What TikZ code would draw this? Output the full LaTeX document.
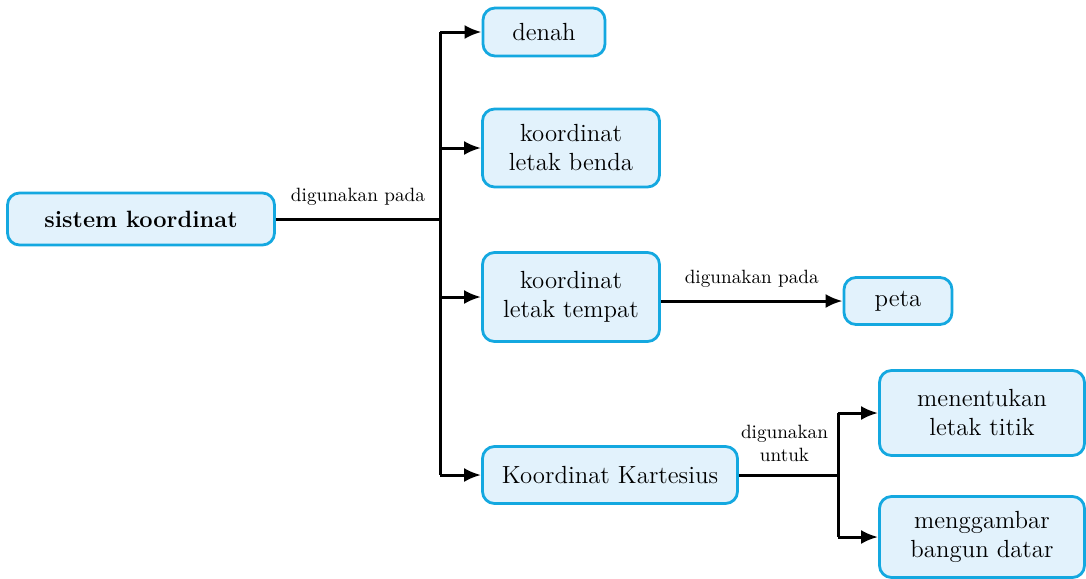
\documentclass[tikz,border=0pt]{standalone}
\usepackage{fontspec}
\usetikzlibrary{positioning,arrows.meta}
\definecolor{boxline}{RGB}{20,168,224}
\definecolor{boxfill}{RGB}{226,242,252}
\tikzset{
  flowarrow/.style={-{Latex[length=8.5pt,width=7pt]}, line width=1.5pt},
  trunk/.style={line width=1.5pt},
  conbox/.style={draw=boxline, line width=1.4pt, rounded corners=6pt, fill=boxfill, align=center, font=\fontsize{12.4}{14.5}\selectfont, inner sep=2pt},
  relabel/.style={font=\fontsize{9.6}{11.5}\selectfont, align=center, inner sep=1pt}
}
\begin{document}
\begin{tikzpicture}[x=0.5pt, y=-0.5pt]
      \useasboundingbox (0,0) rectangle (1086,578);
      \node[conbox, minimum width=133.5pt, minimum height=26pt, font=\fontsize{11.8}{14}\selectfont\bfseries] (sistem) at (141,219) {sistem koordinat};
      \node[conbox, minimum width=61pt, minimum height=24pt] (denah) at (544,32) {denah};
      \node[conbox, minimum width=88.5pt, minimum height=39pt] (benda) at (571,148) {koordinat\\letak benda};
      \node[conbox, minimum width=88.5pt, minimum height=44.5pt] (tempat) at (571,297) {koordinat\\letak tempat};
      \node[conbox, minimum width=127.5pt, minimum height=28.5pt] (kartesius) at (610,475) {Koordinat Kartesius};
      \node[conbox, minimum width=54pt, minimum height=23.5pt] (peta) at (898,301) {peta};
      \node[conbox, minimum width=102.5pt, minimum height=42.5pt] (titik) at (982,413) {menentukan\\letak titik};
      \node[conbox, minimum width=102.5pt, minimum height=40.5pt] (datar) at (982,537) {menggambar\\bangun datar};
      % branch points
      \coordinate (fork1) at (440,219);
      \coordinate (fork2) at (838,475);
      \draw[trunk] (sistem.east) -- node[relabel, above=5pt]{digunakan pada} (fork1);
      \draw[trunk] (fork1 |- denah.west) -- (fork1 |- kartesius.west);
      \foreach \n in {denah,benda,tempat,kartesius}
        \draw[flowarrow] (fork1 |- \n.west) -- (\n.west);
      \draw[flowarrow] (tempat.east |- peta.west) -- node[relabel, above=5pt]{digunakan pada} (peta.west);
      \draw[trunk] (kartesius.east) -- node[relabel, above=5pt, pos=0.46]{digunakan\\untuk} (fork2);
      \draw[trunk] (fork2 |- titik.west) -- (fork2 |- datar.west);
      \foreach \n in {titik,datar}
        \draw[flowarrow] (fork2 |- \n.west) -- (\n.west);
    \end{tikzpicture}
\end{document}
